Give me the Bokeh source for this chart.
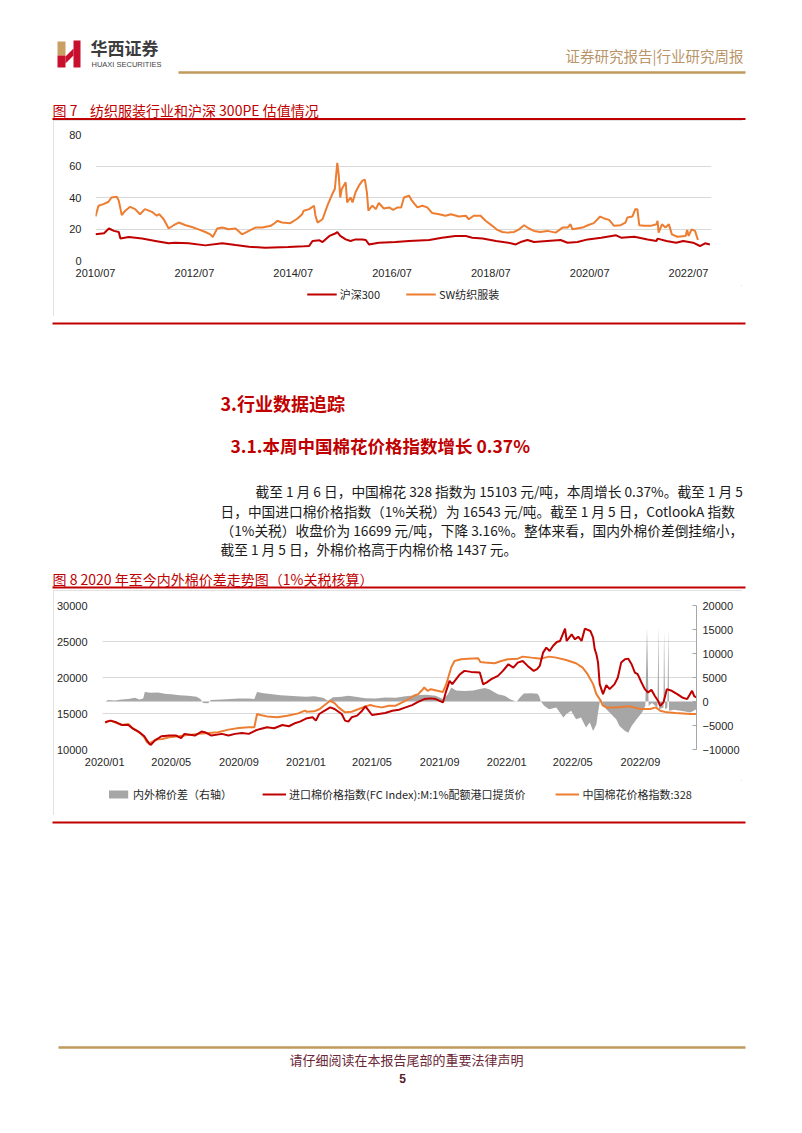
import pandas as pd
from bokeh.plotting import figure
from bokeh.models import (Range1d, LinearAxis, FixedTicker, DatetimeTickFormatter,
                          Legend, LegendItem, Spacer)
from bokeh.layouts import column, row
from bokeh.core.properties import value
from bokeh.embed import file_html
from bokeh.resources import INLINE

# ---------------- data: figure 7 (PE) ----------------
sw_dates = ["2010-07-01","2010-07-23","2010-08-29","2010-10-05","2010-10-27","2010-12-05","2010-12-20",
            "2011-01-11","2011-02-06","2011-03-14","2011-04-20","2011-05-26","2011-07-01","2011-08-22",
            "2011-09-27","2011-10-15","2011-11-17","2011-12-24","2012-01-30","2012-03-07","2012-04-27",
            "2012-06-13","2012-07-31","2012-09-20","2012-10-27","2012-11-14","2012-12-17","2013-01-23",
            "2013-03-11","2013-05-01","2013-06-18","2013-08-08","2013-09-25","2013-11-15","2014-01-16",
            "2014-02-21","2014-03-04","2014-04-10","2014-06-10","2014-07-31","2014-09-06","2014-09-17",
            "2014-10-27","2014-12-02","2014-12-13","2014-12-28","2015-02-03","2015-03-11","2015-04-16",
            "2015-05-05","2015-05-23","2015-06-03","2015-06-14","2015-06-25","2015-07-24","2015-08-04",
            "2015-08-29","2015-09-13","2015-10-05","2015-10-30","2015-11-25","2015-12-13","2015-12-28",
            "2016-01-08","2016-02-06","2016-03-03","2016-03-25","2016-05-01","2016-06-10","2016-07-09",
            "2016-08-11","2016-09-06","2016-09-27","2016-11-03","2016-11-25","2017-01-04","2017-02-10",
            "2017-03-18","2017-04-24","2017-06-14","2017-07-31","2017-09-09","2017-11-07","2017-12-28",
            "2018-01-19","2018-02-24","2018-04-16","2018-05-23","2018-07-12","2018-08-18","2018-09-24",
            "2018-11-03","2018-12-20","2019-01-26","2019-03-04","2019-04-09","2019-05-16","2019-07-02",
            "2019-08-22","2019-10-23","2019-12-13","2020-01-19","2020-02-10","2020-02-24","2020-05-08",
            "2020-06-17","2020-07-31","2020-09-16","2020-10-16","2020-11-21","2020-12-28","2021-02-14",
            "2021-03-22","2021-04-05","2021-05-12","2021-06-03","2021-06-18","2021-07-02","2021-08-08",
            "2021-09-24","2021-11-07","2021-11-14","2021-11-22","2021-12-17","2022-01-12","2022-02-06",
            "2022-02-28","2022-04-09","2022-06-10","2022-06-21","2022-07-02","2022-07-24","2022-08-18",
            "2022-09-09"]
sw_pe = [28.0,34.8,35.8,37.3,40.0,40.5,38.0,
         28.8,31.6,34.1,32.6,29.4,32.6,30.9,
         28.4,29.4,26.2,20.3,22.4,24.1,22.4,
         21.3,19.8,18.1,16.6,14.9,20.3,20.9,
         19.8,20.3,16.6,18.8,20.9,20.9,22.0,
         24.1,25.2,24.1,23.7,26.5,29.4,31.6,
         32.6,34.8,28.4,24.1,26.2,34.8,42.2,
         45.4,62.0,54.0,40.0,45.4,49.7,36.9,
         40.0,36.9,43.3,47.5,50.7,51.4,43.3,
         31.6,34.8,32.6,36.5,33.0,33.7,32.2,
         33.7,33.7,40.0,41.2,38.0,33.7,34.8,
         33.7,30.1,29.4,28.4,29.4,27.9,28.4,
         26.2,28.4,28.4,25.2,22.0,19.4,18.1,
         17.7,18.1,19.8,22.4,20.3,18.8,18.1,
         18.8,17.7,20.9,20.9,23.0,19.8,20.9,
         22.4,23.7,27.9,26.7,25.8,22.0,22.4,
         24.1,27.3,27.9,32.6,32.6,22.4,22.0,
         22.0,23.0,25.2,17.7,23.0,20.9,23.0,
         16.6,15.1,15.6,19.4,15.6,19.8,18.8,
         13.0]

hs_dates = ["2010-07-01","2010-09-02","2010-10-08","2010-11-14","2010-12-20","2011-01-01","2011-03-04",
            "2011-06-10","2011-09-16","2011-12-24","2012-02-10","2012-05-19","2012-09-20","2013-01-23",
            "2013-05-01","2013-08-08","2013-12-06","2014-05-27","2014-09-17","2014-10-27","2014-11-21",
            "2015-01-12","2015-02-03","2015-03-26","2015-05-12","2015-05-23","2015-06-14","2015-07-24",
            "2015-08-29","2015-10-05","2015-11-25","2015-12-20","2016-01-12","2016-03-25","2016-07-27",
            "2016-11-03","2017-04-02","2017-07-05","2017-10-12","2017-12-28","2018-02-14","2018-05-01",
            "2018-08-08","2018-11-25","2019-01-01","2019-02-06","2019-03-29","2019-05-16","2019-08-22",
            "2019-11-28","2020-01-19","2020-04-01","2020-06-17","2020-09-24","2021-01-12","2021-02-18",
            "2021-05-27","2021-09-02","2021-11-07","2021-11-14","2022-01-19","2022-04-01","2022-05-23",
            "2022-08-04","2022-09-24","2022-10-31","2022-12-06"]
hs_pe = [16.6,17.3,20.3,18.8,18.1,13.9,14.9,
         13.9,12.4,10.9,11.3,10.9,9.6,10.9,
         9.8,8.7,8.1,8.5,9.0,9.2,12.4,
         12.8,11.7,15.6,17.3,18.1,15.6,13.4,
         12.4,13.4,13.4,13.0,10.2,11.3,11.7,
         12.4,13.0,14.5,15.6,15.6,14.5,13.9,
         12.4,11.0,10.2,11.7,13.0,11.7,12.4,
         13.0,11.3,11.7,13.4,14.5,16.0,14.5,
         15.1,13.4,12.4,13.9,12.4,11.3,12.4,
         11.3,9.2,10.9,10.2]

pe_ticks = [0, 20, 40, 60, 80]
pe_xticks = ["2010-07-01","2012-07-01","2014-07-01","2016-07-01","2018-07-01","2020-07-01","2022-07-01"]

# ---------------- data: figure 8 (cotton) ----------------
cn_dates = ["2020-01-02","2020-01-05","2020-01-13","2020-01-22","2020-02-01","2020-02-13","2020-02-19",
            "2020-02-28","2020-03-07","2020-03-13","2020-03-18","2020-03-24","2020-04-03","2020-04-15",
            "2020-04-27","2020-05-15","2020-06-02","2020-06-19","2020-07-08","2020-07-25","2020-08-13",
            "2020-09-01","2020-09-19","2020-09-29","2020-10-04","2020-10-10","2020-10-22","2020-11-10",
            "2020-11-28","2020-12-18","2020-12-30","2021-01-02","2021-01-16","2021-01-26","2021-02-04",
            "2021-02-14","2021-02-22","2021-03-01","2021-03-13","2021-03-25","2021-04-07","2021-04-19",
            "2021-04-28","2021-05-07","2021-05-19","2021-06-01","2021-06-13","2021-06-25","2021-07-07",
            "2021-07-16","2021-07-24","2021-07-30","2021-08-04","2021-08-10","2021-08-16","2021-08-28",
            "2021-09-07","2021-09-13","2021-09-22","2021-09-28","2021-10-10","2021-10-22","2021-11-10",
            "2021-11-14","2021-11-22","2021-12-10","2021-12-22","2022-01-03","2022-01-21","2022-01-30",
            "2022-02-15","2022-03-04","2022-03-19","2022-04-01","2022-04-19","2022-05-07","2022-05-19",
            "2022-05-28","2022-06-07","2022-06-13","2022-06-19","2022-06-25","2022-07-01","2022-07-19",
            "2022-08-13","2022-09-01","2022-09-19","2022-09-29","2022-10-07","2022-10-19","2022-11-04",
            "2022-12-01","2022-12-13"]
cn_price = [13700,13870,14010,13690,13410,13550,13090,
            12630,12170,11700,11010,10920,11380,11470,
            11700,11840,12030,12170,12300,12400,12760,
            13000,13090,13090,14930,14790,14600,14470,
            14700,15020,15390,15250,15300,15620,16170,
            16770,16450,15850,15160,15250,15620,15990,
            16170,15990,15850,16080,16080,16540,17000,
            17460,17690,18150,18610,18150,18380,18150,
            18000,19060,21380,22300,22530,22620,22670,
            22160,22070,21980,22300,22530,22620,22900,
            22760,22620,22900,22760,22440,21980,21380,
            20460,19080,17690,17000,16080,15850,15850,
            15990,15620,15620,15850,15390,15160,15070,
            14930,14930]

fc_dates = ["2020-01-02","2020-01-11","2020-01-22","2020-02-01","2020-02-13","2020-02-22","2020-03-04",
            "2020-03-13","2020-03-22","2020-03-25","2020-04-01","2020-04-13","2020-04-28","2020-05-10",
            "2020-05-19","2020-05-25","2020-06-13","2020-06-25","2020-07-01","2020-07-13","2020-08-01",
            "2020-08-13","2020-08-25","2020-09-07","2020-09-19","2020-10-01","2020-10-10","2020-10-22",
            "2020-11-04","2020-11-19","2020-12-01","2020-12-13","2020-12-21","2021-01-01","2021-01-13",
            "2021-01-19","2021-01-25","2021-02-04","2021-02-14","2021-02-22","2021-03-01","2021-03-07",
            "2021-03-13","2021-03-19","2021-03-25","2021-04-04","2021-04-13","2021-04-19","2021-04-25",
            "2021-05-01","2021-05-13","2021-05-25","2021-06-07","2021-06-19","2021-07-01","2021-07-13",
            "2021-07-22","2021-08-04","2021-08-16","2021-08-25","2021-09-07","2021-09-13","2021-09-19",
            "2021-09-24","2021-10-01","2021-10-08","2021-10-16","2021-10-28","2021-11-13","2021-11-19",
            "2021-11-25","2021-12-04","2021-12-16","2021-12-25","2022-01-04","2022-01-13","2022-01-21",
            "2022-01-30","2022-02-08","2022-02-19","2022-02-25","2022-03-02","2022-03-08","2022-03-14",
            "2022-03-20","2022-03-26","2022-04-02","2022-04-08","2022-04-17","2022-04-20","2022-04-29",
            "2022-05-05","2022-05-11","2022-05-17","2022-05-23","2022-06-02","2022-06-07","2022-06-10",
            "2022-06-13","2022-06-16","2022-06-19","2022-06-22","2022-06-25","2022-07-01","2022-07-07",
            "2022-07-16","2022-07-22","2022-07-28","2022-08-04","2022-08-10","2022-08-16","2022-08-22",
            "2022-08-27","2022-09-03","2022-09-09","2022-09-15","2022-09-21","2022-09-27","2022-10-03",
            "2022-10-07","2022-10-13","2022-10-19","2022-10-28","2022-11-07","2022-11-16","2022-11-25",
            "2022-12-04","2022-12-08","2022-12-13"]
fc_price = [13780,14010,13780,13410,13410,12860,12400,
            11840,10780,10650,11240,11840,11940,11940,
            11570,12170,11940,12490,12400,11940,12170,
            11940,12170,12300,12170,12630,12860,13090,
            12950,13410,13230,13690,13870,14300,14470,
            14010,14930,15390,15850,15620,15250,14930,
            14010,13870,14470,14700,15390,15990,15390,
            14790,14930,15070,15390,15530,15850,16170,
            16540,17000,17100,17000,16540,18150,19540,
            19080,19770,20460,20920,20780,20690,19060,
            19290,19770,20230,20920,21840,21380,22070,
            22300,21610,20920,21150,21610,23450,24150,
            23690,24380,24930,25070,26780,25070,25990,
            25300,25670,25070,26780,26460,25530,23920,
            23230,22070,19080,18380,17690,18930,18380,
            19080,20000,22070,22530,22620,21840,20690,
            20460,19310,18380,17920,18290,17460,16770,
            16080,16540,18380,18150,17690,17230,17000,
            18150,17370,17230]

gap_dates = ["2020-01-02","2020-01-07","2020-01-19","2020-02-01","2020-02-13","2020-02-25","2020-03-04",
             "2020-03-11","2020-03-14","2020-03-25","2020-04-07","2020-04-19","2020-05-01","2020-05-16",
             "2020-06-01","2020-06-16","2020-06-23","2020-06-28","2020-07-07","2020-07-12","2020-08-01",
             "2020-08-16","2020-09-01","2020-09-19","2020-09-29","2020-10-04","2020-10-16","2020-11-01",
             "2020-11-16","2020-12-01","2020-12-16","2021-01-01","2021-01-16","2021-02-01","2021-02-10",
             "2021-02-19","2021-03-07","2021-03-19","2021-04-01","2021-04-19","2021-05-07","2021-05-25",
             "2021-06-13","2021-07-01","2021-07-19","2021-08-07","2021-08-25","2021-09-07","2021-09-16",
             "2021-09-22","2021-10-01","2021-10-16","2021-11-01","2021-11-13","2021-11-22","2021-12-01",
             "2021-12-16","2021-12-28","2022-01-07","2022-01-19","2022-01-25","2022-02-01","2022-02-15",
             "2022-02-26","2022-03-01","2022-03-04","2022-03-10","2022-03-19","2022-04-01","2022-04-14",
             "2022-04-19","2022-04-28","2022-05-07","2022-05-16","2022-05-25","2022-06-01","2022-06-07",
             "2022-06-13","2022-06-16","2022-06-19","2022-06-22","2022-06-25","2022-07-01","2022-07-10",
             "2022-07-19","2022-07-25","2022-08-04","2022-08-10","2022-08-16","2022-08-25","2022-09-04",
             "2022-09-10","2022-09-13","2022-09-16","2022-09-22","2022-09-28","2022-10-02","2022-10-04",
             "2022-10-05","2022-10-13","2022-10-14","2022-10-16","2022-10-20","2022-10-22","2022-10-23",
             "2022-11-01","2022-11-16","2022-12-01","2022-12-13"]
gap_value = [0,300,200,400,500,800,400,
             600,2000,1800,1900,1600,1500,1300,
             1200,1000,500,-300,-350,300,400,
             500,600,600,500,2000,1700,1500,
             1300,1200,1100,1000,1100,800,150,
             900,1000,1200,1000,700,650,850,
             800,1100,1300,1400,1200,500,1500,
             2900,2300,2200,2300,2600,2800,2500,
             1500,1200,490,-70,840,1680,1700,
             1600,1100,0,-900,-1600,-1260,-3350,
             -2650,-1950,-3700,-3350,-5440,-4400,-6140,
             -4750,-2300,-200,490,-560,-1600,-2650,
             -3700,-5100,-6140,-6490,-5100,-3700,-2300,
             -900,15500,-900,-300,-900,-1260,15840,
             -1600,-1260,14800,-1600,-1300,15150,-1950,
             -1700,-2000,-2300,-1500]

price_ticks = [10000, 15000, 20000, 25000, 30000]
gap_ticks = [-10000, -5000, 0, 5000, 10000, 15000, 20000]
cot_xticks = ["2020-01-01","2020-05-01","2020-09-01","2021-01-01","2021-05-01",
              "2021-09-01","2022-01-01","2022-05-01","2022-09-01"]

# ---------------- styles ----------------
RED = "#C00000"
ORANGE = "#ED7D31"
GREY = "#A6A6A6"
GOLD = "#C09A5B"
CJK = "Noto Sans CJK SC"
NUM = "Liberation Sans, Arial, Noto Sans CJK SC"
W = 800
BOX = {"outline": "1px solid #D9D9D9", "outline-offset": "-1px"}
FMT = "%Y/%m"
NB = "\u00a0"


def ts(lst):
    return pd.to_datetime(lst)


def bare(width, height, xr, yr):
    f = figure(width=width, height=height, x_range=xr, y_range=yr, output_backend="svg",
               toolbar_location=None, min_border=0,
               x_axis_location=None, y_axis_location=None)
    f.grid.visible = False
    f.outline_line_color = None
    f.background_fill_color = "white"
    f.border_fill_color = "white"
    return f


def deco(top, bottom):
    return bare(W, bottom - top, Range1d(0, W), Range1d(bottom, top))


def txt(f, x, y, s, size, color, bold=False, align="left", font=CJK):
    f.text(x=[x], y=[y], text=[s], text_font=value(font), text_font_size=size,
           text_color=color, text_baseline="middle", text_align=align,
           text_font_style="bold" if bold else "normal")


def hline(f, x0, x1, y, color, w):
    f.segment(x0=[x0], y0=[y], x1=[x1], y1=[y], line_color=color, line_width=w)


def style_axis(ax):
    ax.axis_line_color = None
    ax.major_tick_line_color = None
    ax.minor_tick_line_color = None
    ax.major_label_text_font = NUM
    ax.major_label_text_font_size = "11px"
    ax.major_label_text_color = "#262626"


def legend_strip(height, items, margin, glyph_width, spacing):
    f = bare(689, height, Range1d(0, 1), Range1d(0, 1))
    leg_items = []
    for label, kind, color in items:
        if kind == "area":
            r = f.varea(x=[2, 3], y1=[2, 2], y2=[3, 3], fill_color=color)
        else:
            r = f.line(x=[2, 3], y=[2, 2], line_color=color, line_width=2)
        leg_items.append(LegendItem(label=label, renderers=[r]))
    f.add_layout(Legend(items=leg_items, orientation="horizontal", location="top_center",
                        border_line_color=None, background_fill_alpha=0,
                        label_text_font=CJK, label_text_font_size="11px",
                        label_text_color="#262626", glyph_width=glyph_width, glyph_height=10,
                        label_height=14, label_standoff=3, spacing=spacing, padding=4,
                        margin=margin))
    return f


# ---------------- top decoration (page y 0..120) ----------------
top = deco(0, 120)
top.quad(left=[57], right=[65], top=[41], bottom=[55], fill_color="#C9A063", line_color=None)
top.quad(left=[57], right=[65], top=[55], bottom=[67], fill_color="#C8102E", line_color=None)
top.quad(left=[73], right=[80], top=[40], bottom=[67], fill_color="#C8102E", line_color=None)
top.patch(x=[65, 73, 73, 65], y=[56, 48, 55, 63], fill_color="#C8102E", line_color=None)
txt(top, 90, 47, "华西证券", "17px", "#3C3C3C", bold=True)
txt(top, 91, 63.5, "HUAXI SECURITIES", "7.5px", "#444444", font="Liberation Sans")
txt(top, 743, 55, "证券研究报告|行业研究周报", "14.5px", "#B8956A", align="right")
hline(top, 178, 745, 72, GOLD, 2.5)
txt(top, 52, 109, "图" + NB + "7" + NB * 4 + "纺织服装行业和沪深" + NB + "300PE" + NB + "估值情况", "14px", RED)
hline(top, 52, 745, 118.5, RED, 2)

# ---------------- figure 7 chart (page y 120..285, x 53..742) ----------------
p1 = figure(width=689, height=165, x_axis_type="datetime",
            x_range=Range1d(pd.Timestamp("2010-07-01"), pd.Timestamp("2022-12-18")),
            y_range=Range1d(0, 80), output_backend="svg", toolbar_location=None,
            min_border_left=42, min_border_right=31, min_border_top=14, min_border_bottom=25)
p1.outline_line_color = None
p1.xgrid.visible = False
p1.ygrid.grid_line_color = "#D9D9D9"
p1.ygrid.ticker = FixedTicker(ticks=pe_ticks)
p1.yaxis.ticker = FixedTicker(ticks=pe_ticks)
p1.xaxis.ticker = FixedTicker(ticks=[pd.Timestamp(d).value // 10**6 for d in pe_xticks])
p1.xaxis.formatter = DatetimeTickFormatter(days=FMT, months=FMT, years=FMT)
style_axis(p1.xaxis[0])
style_axis(p1.yaxis[0])
p1.yaxis.major_label_standoff = 8
p1.xaxis.major_label_standoff = 0
p1.line(ts(hs_dates), hs_pe, line_color=RED, line_width=2)
p1.line(ts(sw_dates), sw_pe, line_color=ORANGE, line_width=2)

l1 = legend_strip(31, [("沪深300", "line", RED), ("SW纺织服装", "line", ORANGE)],
                  margin=1, glyph_width=30, spacing=26)
block1 = column(p1, l1, spacing=0, styles=BOX)

# ---------------- middle decoration (page y 316..590) ----------------
mid = deco(316, 590)
hline(mid, 52, 745, 323, RED, 2)
txt(mid, 220, 402, "3.行业数据追踪", "18px", RED, bold=True)
txt(mid, 230, 445, "3.1.本周中国棉花价格指数增长 0.37%", "17.5px", RED, bold=True)
para = ["截至 1 月 6 日，中国棉花 328 指数为 15103 元/吨，本周增长 0.37%。截至 1 月 5",
        "日，中国进口棉价格指数（1%关税）为 16543 元/吨。截至 1 月 5 日，CotlookA 指数",
        "（1%关税）收盘价为 16699 元/吨，下降 3.16%。整体来看，国内外棉价差倒挂缩小，",
        "截至 1 月 5 日，外棉价格高于内棉价格 1437 元。"]
para_x = [255, 220, 220, 220]
para_y = [490, 510, 529, 548]
for s, x, y in zip(para, para_x, para_y):
    txt(mid, x, y, s, "13.7px", "#1A1A1A")
txt(mid, 52, 578, "图 8 2020 年至今内外棉价差走势图（1%关税核算）", "14px", RED)
hline(mid, 52, 745, 587, RED, 2)

# ---------------- figure 8 chart (page y 590..780, x 53..742) ----------------
p2 = figure(width=689, height=190, x_axis_type="datetime",
            x_range=Range1d(pd.Timestamp("2019-12-28"), pd.Timestamp("2022-12-12")),
            y_range=Range1d(10000, 30000), output_backend="svg", toolbar_location=None,
            min_border_left=48, min_border_right=41, min_border_top=15, min_border_bottom=31)
p2.extra_y_ranges = {"gap": Range1d(-10000, 20000)}
p2.outline_line_color = None
p2.xgrid.visible = False
p2.ygrid.grid_line_color = "#D9D9D9"
p2.ygrid.ticker = FixedTicker(ticks=price_ticks)
p2.yaxis.ticker = FixedTicker(ticks=price_ticks)
p2.xaxis.ticker = FixedTicker(ticks=[pd.Timestamp(d).value // 10**6 for d in cot_xticks])
p2.xaxis.formatter = DatetimeTickFormatter(days=FMT, months=FMT, years=FMT)
rax = LinearAxis(y_range_name="gap", ticker=FixedTicker(ticks=gap_ticks))
p2.add_layout(rax, "right")
for ax in (p2.xaxis[0], p2.yaxis[0], rax):
    style_axis(ax)
rax.axis_line_color = "#A6A6A6"
rax.major_tick_line_color = "#A6A6A6"
rax.major_tick_in = 4
rax.major_tick_out = 0
rax.major_label_standoff = 6
p2.yaxis[0].major_label_standoff = 9
p2.xaxis.major_label_standoff = 0
p2.varea(x=ts(gap_dates), y1=0, y2=gap_value, fill_color=GREY, y_range_name="gap")
p2.line(ts(cn_dates), cn_price, line_color=ORANGE, line_width=2)
p2.line(ts(fc_dates), fc_price, line_color=RED, line_width=2)

l2 = legend_strip(35, [("内外棉价差（右轴）", "area", GREY),
                       ("进口棉价格指数(FC Index):M:1%配额港口提货价", "line", RED),
                       ("中国棉花价格指数:328", "line", ORANGE)],
                  margin=6, glyph_width=24, spacing=30)
block2 = column(p2, l2, spacing=0, styles=BOX)

# ---------------- bottom decoration (page y 815..1132) ----------------
bot = deco(815, 1132)
hline(bot, 52, 745, 822, RED, 2)
hline(bot, 58, 745, 1047, GOLD, 2.5)
txt(bot, 406, 1059, "请仔细阅读在本报告尾部的重要法律声明", "13px", "#6B2737", align="center")
txt(bot, 402, 1078, "5", "12px", "#5A1A2A", bold=True, align="center", font="Liberation Sans")

layout = column(top,
                row(Spacer(width=53, height=196), block1, spacing=0),
                mid,
                row(Spacer(width=53, height=225), block2, spacing=0),
                bot, spacing=0)

open("out.html", "w").write(file_html(layout, INLINE))
